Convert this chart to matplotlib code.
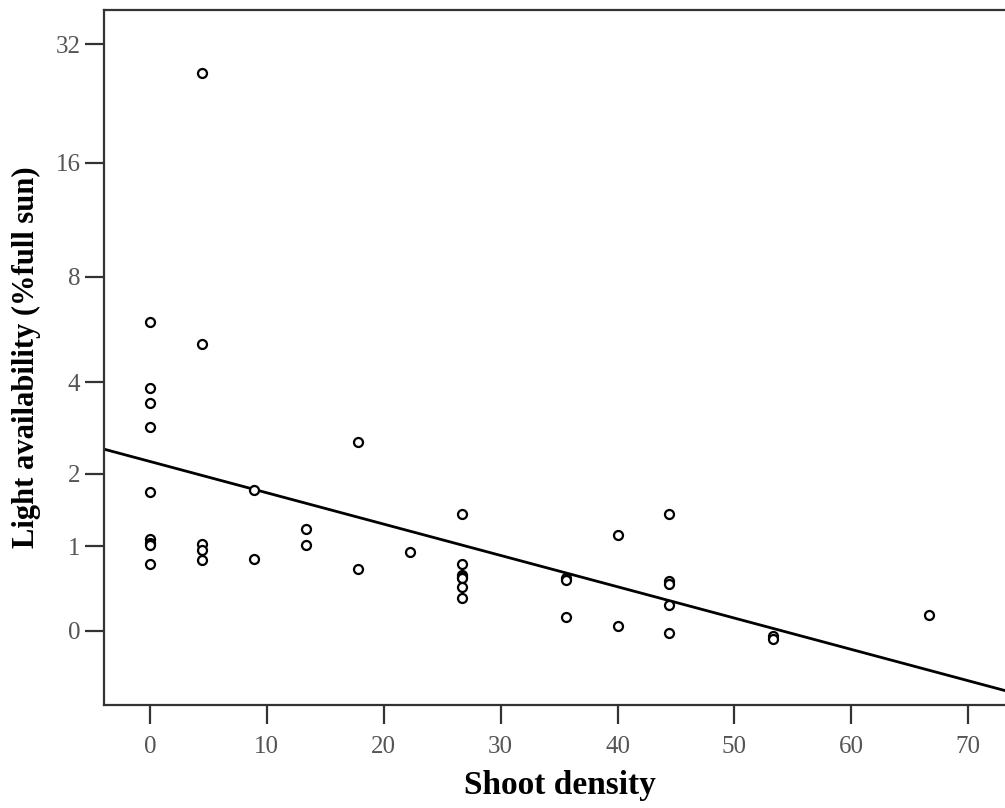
import numpy as np
import matplotlib
matplotlib.use("Agg")
import matplotlib.pyplot as plt

# shoot density groups and light availability (% full sun)
x_groups = [0, 4.444, 8.889, 13.333, 17.778, 22.222, 26.667, 35.556, 40, 44.444, 53.333, 66.667]
light = [
    [6.0, 3.85, 3.46, 2.90, 1.71, 1.08, 1.04, 1.01, 0.81],
    [27.0, 5.19, 1.03, 0.96, 0.85],
    [1.74, 0.86],
    [1.20, 1.01],
    [2.58, 0.76],
    [0.94],
    [1.39, 0.81, 0.70, 0.69, 0.68, 0.59, 0.50],
    [0.68, 0.66, 0.35],
    [1.13, 0.28],
    [1.39, 0.645, 0.62, 0.44, 0.23],
    [0.21, 0.195],
    [0.36],
]
ytick_vals = [0.25, 1, 2, 4, 8, 16, 32]
ytick_labels = ["0", "1", "2", "4", "8", "16", "32"]
xtick_vals = [0, 10, 20, 30, 40, 50, 60, 70]

xs = np.concatenate([[g] * len(v) for g, v in zip(x_groups, light)])
ys = np.concatenate(light)

def fwd(y):
    return np.log2(np.maximum(np.asarray(y, float) + 1, 1e-9))

def inv(t):
    return np.power(2.0, t) - 1

plt.rcParams['font.family'] = ['Liberation Serif', 'DejaVu Serif']

fig = plt.figure(figsize=(10.05, 8.08), dpi=100)
ax = fig.add_axes([104/1005, 103/808, (1015-104)/1005, 695/808])
ax.set_yscale('function', functions=(fwd, inv))

# linear fit on the transformed scale
slope, icpt = np.polyfit(xs, fwd(ys), 1)
xl = np.linspace(-3.93, 74.0, 200)
ax.plot(xl, inv(icpt + slope * xl), color='black', lw=2)

ax.scatter(xs, ys, s=42, facecolors='white', edgecolors='black', linewidths=1.6, zorder=3)

ax.set_xlim(-3.93, 74.0)
ax.set_ylim(-0.175, 38.9)
ax.set_xticks(xtick_vals)
ax.set_yticks(ytick_vals)
ax.set_yticklabels(ytick_labels)
ax.minorticks_off()

for s in ax.spines.values():
    s.set_color('#333333')
    s.set_linewidth(1.6)
ax.tick_params(axis='both', length=14, width=1.6, color='#333333',
               labelsize=18, labelcolor='#555555')
ax.tick_params(axis='x', pad=8)
ax.tick_params(axis='y', pad=3)

ax.set_xlabel("Shoot density", fontsize=24, fontweight='bold', labelpad=9)
ax.set_ylabel("Light availability (%full sun)", fontsize=22, fontweight='bold', labelpad=10)

fig.savefig("out.png", dpi=100)
